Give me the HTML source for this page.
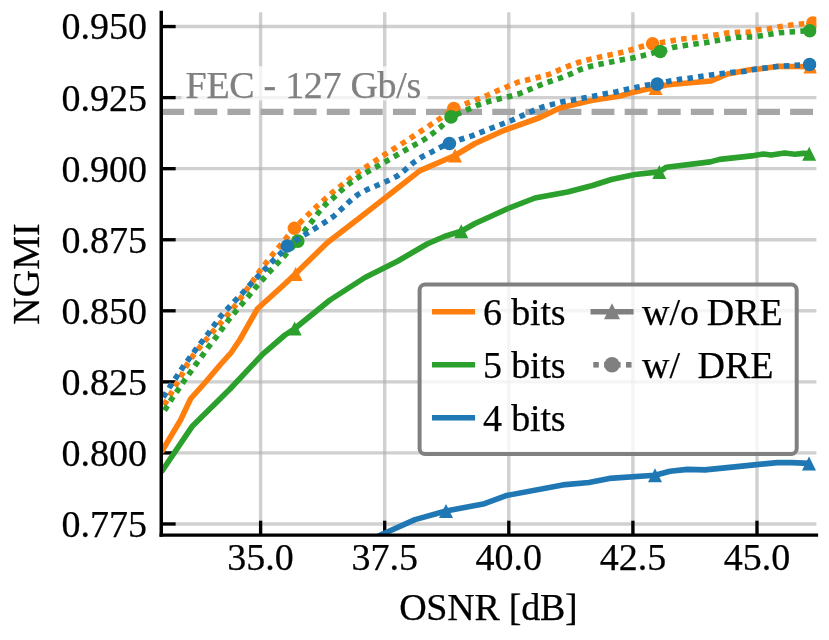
<!DOCTYPE html>
<html><head><meta charset="utf-8"><title>NGMI vs OSNR</title>
<style>
html,body{margin:0;padding:0;background:#fff;}
body{width:829px;height:640px;overflow:hidden;}
svg{display:block;will-change:transform;}
text{font-family:"Liberation Serif",serif;font-size:38px;fill:#000;stroke:#000;stroke-width:0.25px;white-space:pre;}
</style></head><body>
<svg width="829" height="640" viewBox="0 0 829 640">
<rect x="0" y="0" width="829" height="640" fill="#fff"/>
<defs><clipPath id="ax"><rect x="161.25" y="12.35" width="655.15" height="522.75"/></clipPath></defs>
<g stroke="#b0b0b0" stroke-opacity="0.6" stroke-width="3.4" fill="none">
<line x1="260.60" y1="12.35" x2="260.60" y2="535.1"/>
<line x1="384.70" y1="12.35" x2="384.70" y2="535.1"/>
<line x1="508.80" y1="12.35" x2="508.80" y2="535.1"/>
<line x1="632.90" y1="12.35" x2="632.90" y2="535.1"/>
<line x1="757.00" y1="12.35" x2="757.00" y2="535.1"/>
<line x1="161.25" y1="26.55" x2="816.4" y2="26.55"/>
<line x1="161.25" y1="97.61" x2="816.4" y2="97.61"/>
<line x1="161.25" y1="168.67" x2="816.4" y2="168.67"/>
<line x1="161.25" y1="239.73" x2="816.4" y2="239.73"/>
<line x1="161.25" y1="310.79" x2="816.4" y2="310.79"/>
<line x1="161.25" y1="381.85" x2="816.4" y2="381.85"/>
<line x1="161.25" y1="452.91" x2="816.4" y2="452.91"/>
<line x1="161.25" y1="523.97" x2="816.4" y2="523.97"/>
</g>
<g stroke="#000" stroke-width="3.3" fill="none">
<line x1="260.60" y1="535.1" x2="260.60" y2="520.7"/>
<line x1="384.70" y1="535.1" x2="384.70" y2="520.7"/>
<line x1="508.80" y1="535.1" x2="508.80" y2="520.7"/>
<line x1="632.90" y1="535.1" x2="632.90" y2="520.7"/>
<line x1="757.00" y1="535.1" x2="757.00" y2="520.7"/>
<line x1="161.25" y1="26.55" x2="175.65" y2="26.55"/>
<line x1="161.25" y1="97.61" x2="175.65" y2="97.61"/>
<line x1="161.25" y1="168.67" x2="175.65" y2="168.67"/>
<line x1="161.25" y1="239.73" x2="175.65" y2="239.73"/>
<line x1="161.25" y1="310.79" x2="175.65" y2="310.79"/>
<line x1="161.25" y1="381.85" x2="175.65" y2="381.85"/>
<line x1="161.25" y1="452.91" x2="175.65" y2="452.91"/>
<line x1="161.25" y1="523.97" x2="175.65" y2="523.97"/>
</g>
<line x1="161.25" y1="111.8" x2="816.4" y2="111.8" stroke="#a6a6a6" stroke-width="6.2" stroke-dasharray="22.9 10.2"/>
<rect x="181.5" y="66.3" width="246.1" height="34.1" fill="#fff" fill-opacity="0.75"/>
<text x="185.6" y="97.6" style="fill:#808080;stroke:#808080;letter-spacing:-0.3px">FEC - 127 Gb/s</text>
<g clip-path="url(#ax)" fill="none" stroke-linejoin="round">
<path d="M161.40,452.00 L180.60,420.00 L190.60,398.75 L206.25,381.25 L220.00,365.00 L231.25,352.50 L240.00,339.50 L257.50,308.75 L285.00,283.75 L295.50,273.75 L327.50,242.50 L360.00,217.50 L380.00,201.90 L395.20,190.00 L420.00,170.60 L455.00,155.50 L475.00,143.50 L503.75,130.50 L540.00,117.50 L560.00,108.00 L570.00,105.50 L591.25,100.60 L620.00,96.00 L630.00,93.00 L647.50,88.90 L655.50,87.60 L666.25,85.00 L675.90,84.00 L711.00,81.00 L727.50,74.00 L750.00,69.80 L760.25,68.75 L779.00,66.25 L810.40,66.80" stroke="#ff7f0e" stroke-width="5.6" stroke-linecap="butt"/>
<path d="M295.60,267.00 L288.60,281.00 L302.60,281.00 Z" fill="#ff7f0e" stroke="none"/>
<path d="M455.00,148.50 L448.00,162.50 L462.00,162.50 Z" fill="#ff7f0e" stroke="none"/>
<path d="M655.50,81.00 L648.50,95.00 L662.50,95.00 Z" fill="#ff7f0e" stroke="none"/>
<path d="M810.40,59.60 L803.40,73.60 L817.40,73.60 Z" fill="#ff7f0e" stroke="none"/>
<path d="M161.40,409.80 L165.90,402.00 L171.40,392.70 L176.90,383.30 L182.30,373.90 L186.90,364.90 L193.10,355.60 L200.00,346.90 L206.90,338.75 L213.75,330.60 L221.25,322.40 L228.10,314.40 L234.90,306.00 L241.25,297.40 L247.50,288.50 L253.75,279.75 L260.00,270.60 L273.10,254.00 L294.40,228.20 L301.50,221.25 L316.90,206.25 L333.10,191.90 L350.25,178.50 L358.75,171.90 L385.00,154.40 L403.75,142.50 L421.90,130.60 L439.75,118.75 L453.75,108.50 L478.10,99.00 L488.10,95.00 L497.75,90.60 L507.75,86.50 L517.75,82.25 L528.10,79.75 L538.50,77.25 L549.00,74.40 L559.00,70.00 L568.75,66.00 L579.00,62.25 L589.40,59.40 L600.00,56.90 L610.60,54.75 L621.25,52.50 L631.50,49.75 L641.90,46.50 L652.60,43.75 L663.10,42.25 L684.00,38.75 L705.60,36.50 L726.90,33.10 L737.50,32.25 L748.10,32.20 L758.40,29.70 L769.30,28.80 L779.50,26.70 L791.50,25.00 L812.80,23.00" stroke="#ff7f0e" stroke-width="5.6" stroke-dasharray="5.5 5.3" stroke-dashoffset="5.4"/>
<circle cx="294.40" cy="228.30" r="6.8" fill="#ff7f0e" stroke="none"/>
<circle cx="453.75" cy="108.50" r="6.8" fill="#ff7f0e" stroke="none"/>
<circle cx="652.60" cy="43.75" r="6.8" fill="#ff7f0e" stroke="none"/>
<circle cx="812.80" cy="23.00" r="6.8" fill="#ff7f0e" stroke="none"/>
<path d="M161.40,472.00 L192.00,426.60 L230.00,389.00 L262.50,354.30 L285.00,335.00 L294.50,328.75 L330.00,300.00 L365.00,277.50 L397.50,261.25 L427.50,243.75 L445.00,236.25 L461.25,231.25 L475.00,223.50 L507.50,208.75 L535.00,198.00 L567.50,192.00 L592.50,185.50 L611.25,179.50 L635.00,174.50 L659.30,171.90 L666.50,167.20 L710.25,161.90 L719.60,159.40 L754.00,155.60 L763.40,154.00 L771.20,155.00 L784.60,153.00 L794.80,154.20 L803.40,153.40 L809.30,153.50" stroke="#2ca02c" stroke-width="5.6" stroke-linecap="butt"/>
<path d="M294.60,321.50 L287.60,335.50 L301.60,335.50 Z" fill="#2ca02c" stroke="none"/>
<path d="M461.25,224.25 L454.25,238.25 L468.25,238.25 Z" fill="#2ca02c" stroke="none"/>
<path d="M659.30,165.00 L652.30,179.00 L666.30,179.00 Z" fill="#2ca02c" stroke="none"/>
<path d="M809.20,146.70 L802.20,160.70 L816.20,160.70 Z" fill="#2ca02c" stroke="none"/>
<path d="M161.40,414.90 L165.90,408.30 L171.40,399.40 L177.70,390.30 L183.90,381.25 L190.20,372.30 L196.30,363.75 L202.75,355.00 L209.00,346.25 L215.60,337.75 L221.90,329.00 L228.30,320.30 L235.25,312.00 L242.20,303.75 L249.00,295.60 L255.90,287.25 L263.10,279.10 L270.25,271.00 L277.75,263.10 L285.00,255.25 L298.00,241.00 L305.60,229.40 L312.25,221.00 L318.50,212.50 L325.60,204.40 L333.75,197.50 L341.50,190.25 L350.00,183.10 L358.50,177.25 L368.10,171.50 L386.25,161.25 L405.60,150.00 L424.40,139.40 L433.10,133.10 L441.25,126.50 L451.00,116.90 L478.10,105.00 L488.50,101.50 L498.75,99.00 L509.40,96.50 L520.00,93.50 L529.75,89.40 L539.75,85.25 L550.00,81.50 L560.00,78.10 L569.75,74.40 L579.75,69.75 L590.00,66.50 L600.60,64.00 L611.25,61.90 L621.90,59.75 L632.50,58.10 L643.10,55.60 L652.50,53.10 L660.25,51.50 L673.75,47.25 L684.40,45.60 L695.00,44.00 L706.00,42.60 L716.90,40.60 L727.50,38.75 L738.10,37.25 L754.00,36.90 L779.00,32.80 L809.80,30.60" stroke="#2ca02c" stroke-width="5.6" stroke-dasharray="5.5 5.3" stroke-dashoffset="5.4"/>
<circle cx="297.80" cy="241.10" r="6.8" fill="#2ca02c" stroke="none"/>
<circle cx="451.00" cy="116.90" r="6.8" fill="#2ca02c" stroke="none"/>
<circle cx="660.25" cy="51.50" r="6.8" fill="#2ca02c" stroke="none"/>
<circle cx="809.80" cy="30.70" r="6.8" fill="#2ca02c" stroke="none"/>
<path d="M350.00,550.00 L381.70,534.50 L415.00,519.60 L446.00,511.00 L484.50,503.70 L506.20,495.60 L562.70,484.90 L589.00,482.50 L609.30,478.40 L655.00,475.30 L670.00,471.30 L687.40,469.40 L704.80,469.90 L739.50,466.40 L777.20,462.60 L791.70,462.60 L809.00,463.40" stroke="#1f77b4" stroke-width="5.6" stroke-linecap="butt"/>
<path d="M446.00,504.00 L439.00,518.00 L453.00,518.00 Z" fill="#1f77b4" stroke="none"/>
<path d="M655.00,468.30 L648.00,482.30 L662.00,482.30 Z" fill="#1f77b4" stroke="none"/>
<path d="M809.00,456.40 L802.00,470.40 L816.00,470.40 Z" fill="#1f77b4" stroke="none"/>
<path d="M161.40,400.00 L165.20,394.20 L170.60,385.60 L176.90,376.25 L183.10,366.90 L189.40,358.10 L195.60,349.75 L202.25,341.25 L208.50,333.10 L214.75,324.40 L221.25,315.60 L228.75,307.50 L236.10,299.60 L243.60,291.90 L251.00,283.75 L258.10,276.25 L265.60,268.50 L273.10,260.60 L281.00,253.10 L287.40,245.90 L306.25,233.75 L315.60,228.10 L325.00,222.25 L333.75,216.25 L341.50,209.00 L349.75,201.25 L358.10,194.40 L367.50,189.40 L377.50,185.25 L387.25,181.00 L396.90,176.25 L405.30,169.70 L413.60,162.50 L422.40,156.60 L431.90,151.90 L441.25,146.90 L449.40,143.50 L461.90,139.00 L472.50,135.60 L492.50,127.75 L502.25,124.00 L512.50,120.00 L522.25,115.60 L531.90,111.25 L541.90,107.25 L552.25,104.40 L562.60,101.70 L573.10,100.00 L583.75,98.10 L594.40,96.00 L605.25,93.75 L615.60,91.90 L626.25,89.40 L636.90,87.25 L647.50,85.00 L657.30,84.10 L668.75,81.25 L679.40,79.40 L690.00,78.10 L700.60,76.50 L711.25,75.00 L722.25,73.50 L733.10,72.25 L743.75,71.50 L754.00,69.40 L779.00,66.25 L809.50,64.60" stroke="#1f77b4" stroke-width="5.6" stroke-dasharray="5.5 5.3" stroke-dashoffset="7.5"/>
<circle cx="287.30" cy="246.00" r="6.8" fill="#1f77b4" stroke="none"/>
<circle cx="449.40" cy="143.50" r="6.8" fill="#1f77b4" stroke="none"/>
<circle cx="657.30" cy="84.10" r="6.8" fill="#1f77b4" stroke="none"/>
<circle cx="809.60" cy="64.50" r="6.8" fill="#1f77b4" stroke="none"/>
</g>
<line x1="161.25" y1="10.65" x2="161.25" y2="536.8000000000001" stroke="#000" stroke-width="3.45"/>
<line x1="159.55" y1="535.1" x2="818.1" y2="535.1" stroke="#000" stroke-width="3.45"/>
<text x="147.0" y="39.45" text-anchor="end">0.950</text>
<text x="147.0" y="110.51" text-anchor="end">0.925</text>
<text x="147.0" y="181.57" text-anchor="end">0.900</text>
<text x="147.0" y="252.63" text-anchor="end">0.875</text>
<text x="147.0" y="323.69" text-anchor="end">0.850</text>
<text x="147.0" y="394.75" text-anchor="end">0.825</text>
<text x="147.0" y="465.81" text-anchor="end">0.800</text>
<text x="147.0" y="536.87" text-anchor="end">0.775</text>
<text x="260.60" y="569.6" text-anchor="middle">35.0</text>
<text x="384.70" y="569.6" text-anchor="middle">37.5</text>
<text x="508.80" y="569.6" text-anchor="middle">40.0</text>
<text x="632.90" y="569.6" text-anchor="middle">42.5</text>
<text x="757.00" y="569.6" text-anchor="middle">45.0</text>
<text x="488.3" y="620" text-anchor="middle" style="letter-spacing:-0.25px">OSNR [dB]</text>
<text transform="translate(38.9,274) rotate(-90)" text-anchor="middle">NGMI</text>
<rect x="419.6" y="284.6" width="377.1" height="169.3" rx="5.5" ry="5.5" fill="#fff" fill-opacity="0.78" stroke="#808080" stroke-width="4"/>
<line x1="432" y1="311.8" x2="475.1" y2="311.8" stroke="#ff7f0e" stroke-width="5.6"/>
<text x="483" y="324.70" style="letter-spacing:-0.15px">6 bits</text>
<line x1="432" y1="364.8" x2="475.1" y2="364.8" stroke="#2ca02c" stroke-width="5.6"/>
<text x="483" y="377.70" style="letter-spacing:-0.15px">5 bits</text>
<line x1="432" y1="417.7" x2="475.1" y2="417.7" stroke="#1f77b4" stroke-width="5.6"/>
<text x="483" y="430.60" style="letter-spacing:-0.15px">4 bits</text>
<line x1="590.5" y1="311.8" x2="633.6" y2="311.8" stroke="#808080" stroke-width="5.6"/>
<path d="M612.00,303.20 L604.00,319.20 L620.00,319.20 Z" fill="#808080"/>
<text x="642.0" y="324.70">w/o<tspan dx="-1.7"> DRE</tspan></text>
<rect x="593.3" y="362.00" width="5.5" height="5.6" fill="#808080"/>
<rect x="604.2" y="362.00" width="5.5" height="5.6" fill="#808080"/>
<rect x="615.1" y="362.00" width="5.5" height="5.6" fill="#808080"/>
<rect x="626.0" y="362.00" width="5.5" height="5.6" fill="#808080"/>
<circle cx="612" cy="364.8" r="7.7" fill="#808080"/>
<text x="642.0" y="377.70">w/<tspan dx="-1.5">  DRE</tspan></text>
</svg></body></html>
